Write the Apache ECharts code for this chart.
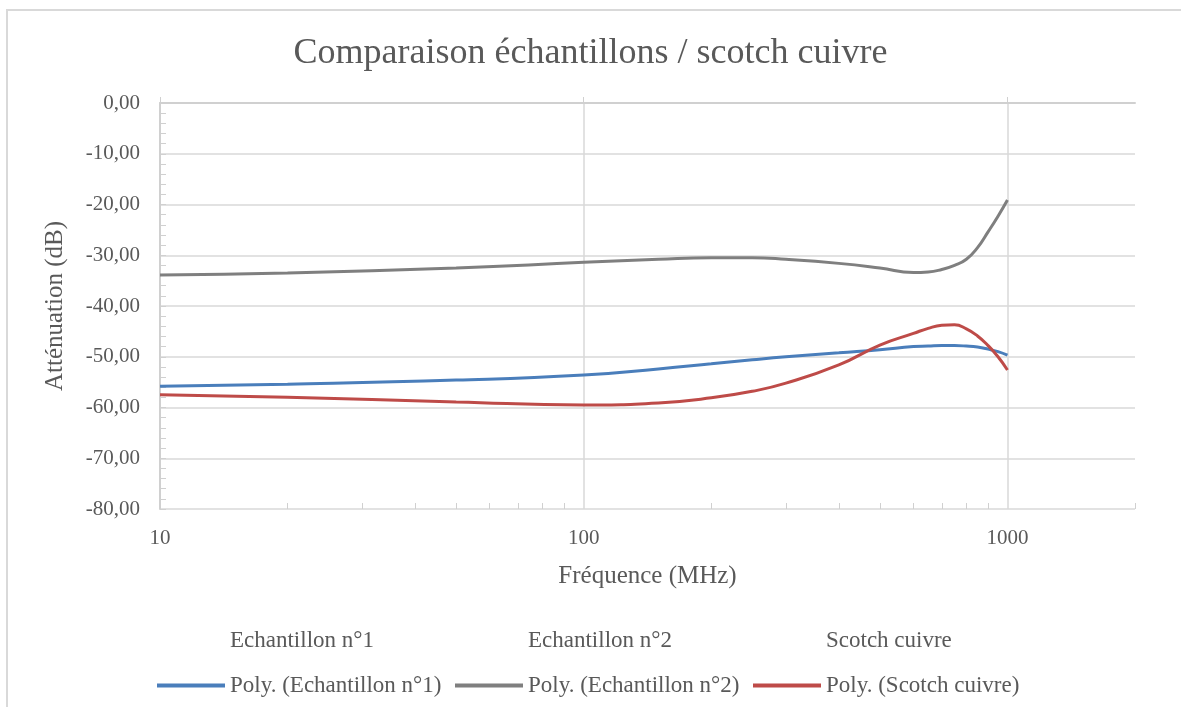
<!DOCTYPE html>
<html>
<head>
<meta charset="utf-8">
<script src="https://cdn.jsdelivr.net/npm/echarts@6/dist/echarts.min.js"></script>
<style>
  html, body { margin: 0; padding: 0; background: #fff; }
  #main { width: 1181px; height: 707px; }
</style>
</head>
<body>
<div id="main"></div>
<script>
const freq = [10, 20, 50, 100, 150, 200, 250, 300, 400, 500, 600, 650, 700, 750, 800, 850, 900, 950, 1000];
const polyEch1 = [-55.8, -55.4, -54.6, -53.6, -52.4, -51.4, -50.6, -50.0, -49.2, -48.6, -48.0, -47.9, -47.8, -47.8, -47.9, -48.1, -48.5, -49.0, -49.7];
const polyEch2 = [-33.9, -33.5, -32.5, -31.4, -30.8, -30.5, -30.5, -30.8, -31.6, -32.5, -33.4, -33.3, -32.8, -32.0, -30.8, -28.5, -25.4, -22.3, -19.1];
const polyScotch = [-57.5, -58.0, -58.9, -59.5, -59.1, -58.1, -56.8, -55.2, -51.6, -47.7, -45.4, -44.4, -43.8, -43.7, -44.5, -45.9, -47.8, -50.0, -52.6];
const rawNames = ['Echantillon n°1', 'Echantillon n°2', 'Scotch cuivre'];
const polyNames = ['Poly. (Echantillon n°1)', 'Poly. (Echantillon n°2)', 'Poly. (Scotch cuivre)'];
const xLabels = [10, 100, 1000];
const xMinorTicks = [20, 30, 40, 50, 60, 70, 80, 90, 200, 300, 400, 500, 600, 700, 800, 900, 2000];

const font = 'Liberation Serif';
const txt = '#595959';
const colors = ['#4a7ebb', '#7f7f7f', '#be4b48'];

function pairs(vals) {
    return freq.map((f, i) => [f, vals[i]]);
}

const chart = echarts.init(document.getElementById('main'));

const series = [];
rawNames.forEach(name => {
    series.push({
        name: name,
        type: 'line',
        data: [],
        symbol: 'none',
        color: '#ffffff',
        lineStyle: { color: '#ffffff' }
    });
});
[polyEch1, polyEch2, polyScotch].forEach((vals, i) => {
    series.push({
        name: polyNames[i],
        type: 'line',
        data: pairs(vals),
        smooth: 0.5,
        symbol: 'none',
        color: colors[i],
        lineStyle: { width: 3, color: colors[i] }
    });
});

// une légende par case pour garder les colonnes alignées comme dans Excel
const colLeft = [157, 455, 753];
const legends = [];
rawNames.forEach((n, i) => {
    legends.push({
        left: colLeft[i], top: 629, padding: 0,
        itemWidth: 68, itemHeight: 4, icon: 'rect',
        data: [n],
        textStyle: { fontFamily: font, fontSize: 23, color: txt }
    });
});
polyNames.forEach((n, i) => {
    legends.push({
        left: colLeft[i], top: 674, padding: 0,
        itemWidth: 68, itemHeight: 4, icon: 'rect',
        data: [n],
        textStyle: { fontFamily: font, fontSize: 23, color: txt }
    });
});

chart.setOption({
    animation: false,
    graphic: [{
        type: 'rect',
        shape: { x: 7, y: 10, width: 1200, height: 720 },
        style: { fill: 'none', stroke: '#d9d9d9', lineWidth: 2 },
        silent: true
    }],
    title: {
        text: 'Comparaison échantillons / scotch cuivre',
        left: 'center',
        top: 31,
        textStyle: { fontFamily: font, fontSize: 36, fontWeight: 'normal', color: txt }
    },
    legend: legends,
    grid: { left: 160, right: 46, top: 103, bottom: 198 },
    xAxis: [{
        type: 'log',
        logBase: 10,
        min: 10,
        max: 2000,
        name: 'Fréquence (MHz)',
        nameLocation: 'middle',
        nameGap: 55,
        nameTextStyle: { fontFamily: font, fontSize: 25, color: txt },
        axisLine: { lineStyle: { color: '#d0d0d0', width: 2 } },
        axisTick: { show: true, inside: true, length: 6, customValues: xLabels, lineStyle: { color: '#d0d0d0' } },
        axisLabel: { fontFamily: font, fontSize: 21, color: txt, margin: 19, customValues: xLabels, formatter: v => String(v) },
        splitLine: { show: true, lineStyle: { color: '#d9d9d9', width: 1.5 } }
    }, {
        type: 'log',
        logBase: 10,
        min: 10,
        max: 2000,
        position: 'bottom',
        axisLine: { show: false },
        axisTick: { show: true, inside: true, length: 6, customValues: xMinorTicks, lineStyle: { color: '#d0d0d0' } },
        axisLabel: { show: false },
        splitLine: { show: false }
    }],
    yAxis: {
        type: 'value',
        min: -80,
        max: 0,
        interval: 10,
        name: 'Atténuation (dB)',
        nameLocation: 'middle',
        nameGap: 92,
        nameTextStyle: { fontFamily: font, fontSize: 25, color: txt },
        axisLine: { show: true, lineStyle: { color: '#d0d0d0', width: 2 } },
        axisTick: { show: true, inside: true, length: 6, lineStyle: { color: '#d0d0d0' } },
        minorTick: { show: true, splitNumber: 5, length: 6, lineStyle: { color: '#d0d0d0' } },
        axisLabel: {
            fontFamily: font, fontSize: 21, color: txt, margin: 20,
            formatter: v => v.toFixed(2).replace('.', ',')
        },
        splitLine: { show: true, lineStyle: { color: '#d9d9d9', width: 1.5 } }
    },
    series: series
});
</script>
</body>
</html>
